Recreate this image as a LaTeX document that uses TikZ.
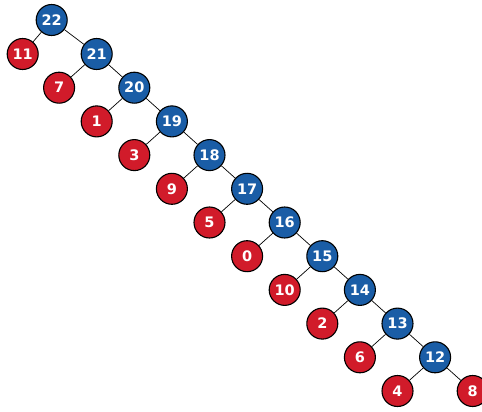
\documentclass[tikz,border=0pt]{standalone}
\usepackage{fontspec}
\setsansfont{DejaVu Sans}
\usepackage{tikz}
\usetikzlibrary{positioning}
\definecolor{treeblue}{HTML}{1A5DA6}
\definecolor{treered}{HTML}{D11B2A}
\tikzset{
  tnode/.style={circle, draw=black, line width=1.1pt, minimum size=31pt, inner sep=0pt, text=white, font=\sffamily\bfseries\fontsize{14.5}{15}\selectfont},
  tinner/.style={tnode, fill=treeblue},
  tleaf/.style={tnode, fill=treered},
  tedge/.style={draw=black, line width=0.7pt},
}
\begin{document}
\begin{tikzpicture}[node distance=33.7pt and 37.6pt, on grid]
    \useasboundingbox (0pt,0pt) rectangle (482pt,-412pt);
    \node[tinner] (n22) at (51.7pt,-20pt) {22};
    \node[tleaf, below left=34pt and 29pt of n22] (n11) {11};
    \node[tinner, below right=34pt and 45pt of n22] (n21) {21};
    \node[tleaf, below left=of n21] (n7) {7};
    \node[tinner, below right=of n21] (n20) {20};
    \node[tleaf, below left=of n20] (n1) {1};
    \node[tinner, below right=of n20] (n19) {19};
    \node[tleaf, below left=of n19] (n3) {3};
    \node[tinner, below right=of n19] (n18) {18};
    \node[tleaf, below left=of n18] (n9) {9};
    \node[tinner, below right=of n18] (n17) {17};
    \node[tleaf, below left=of n17] (n5) {5};
    \node[tinner, below right=of n17] (n16) {16};
    \node[tleaf, below left=of n16] (n0) {0};
    \node[tinner, below right=of n16] (n15) {15};
    \node[tleaf, below left=of n15] (n10) {10};
    \node[tinner, below right=of n15] (n14) {14};
    \node[tleaf, below left=of n14] (n2) {2};
    \node[tinner, below right=of n14] (n13) {13};
    \node[tleaf, below left=of n13] (n6) {6};
    \node[tinner, below right=of n13] (n12) {12};
    \node[tleaf, below left=of n12] (n4) {4};
    \node[tleaf, below right=of n12] (n8) {8};
    % edges
    \draw[tedge] (n22) -- (n11);
    \draw[tedge] (n22) -- (n21);
    \draw[tedge] (n21) -- (n7);
    \draw[tedge] (n21) -- (n20);
    \draw[tedge] (n20) -- (n1);
    \draw[tedge] (n20) -- (n19);
    \draw[tedge] (n19) -- (n3);
    \draw[tedge] (n19) -- (n18);
    \draw[tedge] (n18) -- (n9);
    \draw[tedge] (n18) -- (n17);
    \draw[tedge] (n17) -- (n5);
    \draw[tedge] (n17) -- (n16);
    \draw[tedge] (n16) -- (n0);
    \draw[tedge] (n16) -- (n15);
    \draw[tedge] (n15) -- (n10);
    \draw[tedge] (n15) -- (n14);
    \draw[tedge] (n14) -- (n2);
    \draw[tedge] (n14) -- (n13);
    \draw[tedge] (n13) -- (n6);
    \draw[tedge] (n13) -- (n12);
    \draw[tedge] (n12) -- (n4);
    \draw[tedge] (n12) -- (n8);
\end{tikzpicture}
\end{document}
